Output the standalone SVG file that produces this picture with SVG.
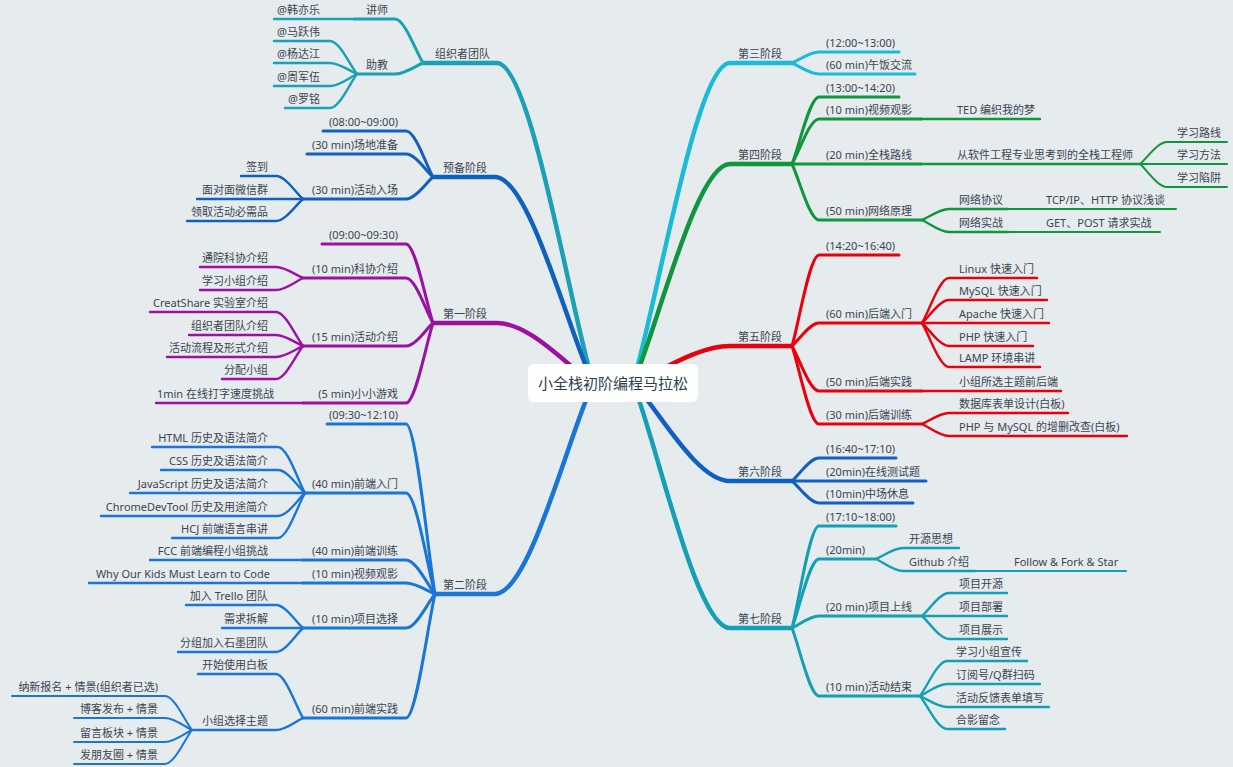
<svg xmlns="http://www.w3.org/2000/svg" width="1233" height="767" viewBox="0 0 1233 767">
<style>
text{font-family:"Noto Sans","Noto Sans CJK SC",sans-serif;font-size:11px;fill:#3a4550}
.l text{text-anchor:end}
.r text{text-anchor:start}
path{fill:none;stroke-linecap:round;stroke-linejoin:round}
.w1{stroke-width:4.5}.w2{stroke-width:3}.w3{stroke-width:2.4}.w4{stroke-width:2}
.c0{stroke:#1ba1b5}.c1{stroke:#1060c0}.c2{stroke:#9b12a3}.c3{stroke:#1776d6}
.c4{stroke:#18bcd8}.c5{stroke:#10963c}.c6{stroke:#e8000c}.c7{stroke:#1060c4}.c8{stroke:#14a0b4}
</style>
<rect width="1233" height="767" fill="#e6ebee"/>
<g id="connectors">
<path class="w1 c0" d="M593,383 C569,303 530.6,63 497,63 L423,63"/>
<path class="w1 c1" d="M593,383 C568.5,331.5 529.3,177 495,177 L433,177"/>
<path class="w1 c2" d="M593,383 C569,368 530.6,323 497,323 L433,323"/>
<path class="w1 c3" d="M593,383 C568.5,435.8 529.3,594 495,594 L435,594"/>
<path class="w1 c4" d="M633,383 C657.3,303 696.1,63 730,63 L792,63"/>
<path class="w1 c5" d="M633,383 C657.3,328.3 696.1,164 730,164 L792,164"/>
<path class="w1 c6" d="M633,383 C657.3,373.8 696.1,346 730,346 L792,346"/>
<path class="w1 c7" d="M633,383 C657.3,407.5 696.1,481 730,481 L792,481"/>
<path class="w1 c8" d="M633,383 C657.3,444.3 696.1,628 730,628 L792,628"/>
<path class="w2 c0" d="M423,63 C416,52 404.8,19 395,19 L355,19"/>
<path class="w3 c0" d="M355,19 L274,19"/>
<path class="w2 c0" d="M423,63 C416,65.8 404.8,74 395,74 L357,74"/>
<path class="w3 c0" d="M357,74 C350.3,65.8 339.5,41 330,41 L274,41"/>
<path class="w3 c0" d="M357,74 C350.3,71.3 339.5,63 330,63 L274,63"/>
<path class="w3 c0" d="M357,74 C350.3,77 339.5,86 330,86 L274,86"/>
<path class="w3 c0" d="M357,74 C350.3,82.5 339.5,108 330,108 L285,108"/>
<path class="w2 c1" d="M433,177 C426.3,165.5 415.5,131 406,131 L323,131"/>
<path class="w2 c1" d="M433,177 C426.3,171.3 415.5,154 406,154 L307,154"/>
<path class="w2 c1" d="M433,177 C426.3,182.5 415.5,199 406,199 L303,199"/>
<path class="w3 c1" d="M303,199 C296.3,193.3 285.5,176 276,176 L241,176"/>
<path class="w3 c1" d="M303,199 L197,199"/>
<path class="w3 c1" d="M303,199 C296.3,204.5 285.5,221 276,221 L187,221"/>
<path class="w2 c2" d="M433,323 C426.3,303.3 415.5,244 406,244 L322,244"/>
<path class="w2 c2" d="M433,323 C426.3,311.8 415.5,278 406,278 L303,278"/>
<path class="w3 c2" d="M303,278 C296.3,275.3 285.5,267 276,267 L200,267"/>
<path class="w3 c2" d="M303,278 C296.3,281 285.5,290 276,290 L200,290"/>
<path class="w2 c2" d="M433,323 C426.3,328.8 415.5,346 406,346 L303,346"/>
<path class="w3 c2" d="M303,346 C296.3,337.5 285.5,312 276,312 L150,312"/>
<path class="w3 c2" d="M303,346 C296.3,343.3 285.5,335 276,335 L189,335"/>
<path class="w3 c2" d="M303,346 C296.3,348.8 285.5,357 276,357 L167,357"/>
<path class="w3 c2" d="M303,346 C296.3,354.3 285.5,379 276,379 L222,379"/>
<path class="w2 c2" d="M433,323 C426.3,343 415.5,403 406,403 L303,403"/>
<path class="w3 c2" d="M303,403 L156,403"/>
<path class="w2 c3" d="M435,594 C427.8,551.5 416.2,424 406,424 L327,424"/>
<path class="w2 c3" d="M435,594 C427.8,568.8 416.2,493 406,493 L305,493"/>
<path class="w3 c3" d="M305,493 C298.3,481.5 287.5,447 278,447 L152,447"/>
<path class="w3 c3" d="M305,493 C298.3,487.3 287.5,470 278,470 L161,470"/>
<path class="w3 c3" d="M305,493 L130,493"/>
<path class="w3 c3" d="M305,493 C298.3,498.8 287.5,516 278,516 L101,516"/>
<path class="w3 c3" d="M305,493 C298.3,504.3 287.5,538 278,538 L172,538"/>
<path class="w2 c3" d="M435,594 C427.8,585.5 416.2,560 406,560 L303,560"/>
<path class="w3 c3" d="M303,560 L150,560"/>
<path class="w2 c3" d="M435,594 C427.8,591.3 416.2,583 406,583 L303,583"/>
<path class="w3 c3" d="M303,583 L89,583"/>
<path class="w2 c3" d="M435,594 C427.8,602.5 416.2,628 406,628 L303,628"/>
<path class="w3 c3" d="M303,628 C296.3,622.3 285.5,605 276,605 L186,605"/>
<path class="w3 c3" d="M303,628 L222,628"/>
<path class="w3 c3" d="M303,628 C296.3,634 285.5,652 276,652 L178,652"/>
<path class="w2 c3" d="M435,594 C427.8,625 416.2,718 406,718 L303,718"/>
<path class="w3 c3" d="M303,718 C296.3,707 285.5,674 276,674 L198,674"/>
<path class="w3 c3" d="M303,718 C296.3,721 285.5,730 276,730 L192,730"/>
<path class="w4 c3" d="M192,730 C185.3,721.5 174.5,696 165,696 L12,696"/>
<path class="w4 c3" d="M192,730 C185.3,727 174.5,718 165,718 L74,718"/>
<path class="w4 c3" d="M192,730 C185.3,733 174.5,742 165,742 L74,742"/>
<path class="w4 c3" d="M192,730 C185.3,738.5 174.5,764 165,764 L74,764"/>
<path class="w2 c4" d="M792,63 C798.8,60.3 809.6,52 819,52 L899,52"/>
<path class="w2 c4" d="M792,63 C798.8,65.8 809.6,74 819,74 L915,74"/>
<path class="w2 c5" d="M792,164 C798.8,147.3 809.6,97 819,97 L899,97"/>
<path class="w2 c5" d="M792,164 C798.8,152.8 809.6,119 819,119 L921,119"/>
<path class="w3 c5" d="M921,119 L1040,119"/>
<path class="w2 c5" d="M792,164 L921,164"/>
<path class="w3 c5" d="M921,164 L1140,164"/>
<path class="w4 c5" d="M1140,164 C1146.8,158.5 1157.6,142 1167,142 L1227,142"/>
<path class="w4 c5" d="M1140,164 L1227,164"/>
<path class="w4 c5" d="M1140,164 C1146.8,169.8 1157.6,187 1167,187 L1227,187"/>
<path class="w2 c5" d="M792,164 C798.8,178 809.6,220 819,220 L922,220"/>
<path class="w3 c5" d="M922,220 C928.8,217.3 939.6,209 949,209 L1008,209"/>
<path class="w4 c5" d="M1008,209 L1176,209"/>
<path class="w3 c5" d="M922,220 C928.8,223 939.6,232 949,232 L1008,232"/>
<path class="w4 c5" d="M1008,232 L1160,232"/>
<path class="w2 c6" d="M792,346 C798.8,323.3 809.6,255 819,255 L899,255"/>
<path class="w2 c6" d="M792,346 C798.8,340.3 809.6,323 819,323 L922,323"/>
<path class="w3 c6" d="M922,323 C928.8,311.8 939.6,278 949,278 L1037,278"/>
<path class="w3 c6" d="M922,323 C928.8,317.3 939.6,300 949,300 L1047,300"/>
<path class="w3 c6" d="M922,323 L1049,323"/>
<path class="w3 c6" d="M922,323 C928.8,328.8 939.6,346 949,346 L1033,346"/>
<path class="w3 c6" d="M922,323 C928.8,334 939.6,367 949,367 L1040,367"/>
<path class="w2 c6" d="M792,346 C798.8,357.3 809.6,391 819,391 L922,391"/>
<path class="w3 c6" d="M922,391 L1061,391"/>
<path class="w2 c6" d="M792,346 C798.8,365.5 809.6,424 819,424 L922,424"/>
<path class="w3 c6" d="M922,424 C928.8,421.3 939.6,413 949,413 L1068,413"/>
<path class="w3 c6" d="M922,424 C928.8,427 939.6,436 949,436 L1127,436"/>
<path class="w2 c7" d="M792,481 C798.8,475.3 809.6,458 819,458 L896,458"/>
<path class="w2 c7" d="M792,481 L926,481"/>
<path class="w2 c7" d="M792,481 C798.8,486.5 809.6,503 819,503 L913,503"/>
<path class="w2 c8" d="M792,628 C798.8,602.5 809.6,526 819,526 L896,526"/>
<path class="w2 c8" d="M792,628 C798.8,610.8 809.6,559 819,559 L876,559"/>
<path class="w3 c8" d="M876,559 C882.8,556.3 893.6,548 903,548 L959,548"/>
<path class="w3 c8" d="M876,559 C882.8,562 893.6,571 903,571 L975,571"/>
<path class="w4 c8" d="M975,571 L1126,571"/>
<path class="w2 c8" d="M792,628 C798.8,625 809.6,616 819,616 L922,616"/>
<path class="w3 c8" d="M922,616 C928.8,610.3 939.6,593 949,593 L1007,593"/>
<path class="w3 c8" d="M922,616 L1007,616"/>
<path class="w3 c8" d="M922,616 C928.8,621.8 939.6,639 949,639 L1007,639"/>
<path class="w2 c8" d="M792,628 C798.8,645 809.6,696 819,696 L920,696"/>
<path class="w3 c8" d="M920,696 C926.8,687.3 937.6,661 947,661 L1027,661"/>
<path class="w3 c8" d="M920,696 C926.8,693 937.6,684 947,684 L1040,684"/>
<path class="w3 c8" d="M920,696 C926.8,698.8 937.6,707 947,707 L1049,707"/>
<path class="w3 c8" d="M920,696 C926.8,704.3 937.6,729 947,729 L1005,729"/>
</g>
<g id="center">
<rect x="528" y="364" width="170" height="38" rx="6" fill="#ffffff"/>
<text x="613" y="389" text-anchor="middle" style="font-size:15px;fill:#2e3d4a">小全栈初阶编程马拉松</text>
</g>
<g id="stage-org" class="l">
<text x="490" y="58">组织者团队</text>
<text x="388" y="14">讲师</text>
<text x="320" y="14">@韩亦乐</text>
<text x="388" y="69">助教</text>
<text x="320" y="36">@马跃伟</text>
<text x="320" y="58">@杨达江</text>
<text x="320" y="81">@周军伍</text>
<text x="320" y="103">@罗铭</text>
</g>
<g id="stage-prep" class="l">
<text x="487" y="172">预备阶段</text>
<text x="398" y="126">(08:00~09:00)</text>
<text x="398" y="149">(30 min)场地准备</text>
<text x="398" y="194">(30 min)活动入场</text>
<text x="268" y="171">签到</text>
<text x="268" y="194">面对面微信群</text>
<text x="268" y="216">领取活动必需品</text>
</g>
<g id="stage-1" class="l">
<text x="487" y="318">第一阶段</text>
<text x="398" y="239">(09:00~09:30)</text>
<text x="398" y="273">(10 min)科协介绍</text>
<text x="268" y="262">通院科协介绍</text>
<text x="268" y="285">学习小组介绍</text>
<text x="398" y="341">(15 min)活动介绍</text>
<text x="268" y="307">CreatShare 实验室介绍</text>
<text x="268" y="330">组织者团队介绍</text>
<text x="268" y="352">活动流程及形式介绍</text>
<text x="268" y="374">分配小组</text>
<text x="398" y="398">(5 min)小小游戏</text>
<text x="274" y="398">1min 在线打字速度挑战</text>
</g>
<g id="stage-2" class="l">
<text x="487" y="589">第二阶段</text>
<text x="398" y="419">(09:30~12:10)</text>
<text x="398" y="488">(40 min)前端入门</text>
<text x="268" y="442">HTML 历史及语法简介</text>
<text x="268" y="465">CSS 历史及语法简介</text>
<text x="268" y="488">JavaScript 历史及语法简介</text>
<text x="268" y="511">ChromeDevTool 历史及用途简介</text>
<text x="268" y="533">HCJ 前端语言串讲</text>
<text x="398" y="555">(40 min)前端训练</text>
<text x="268" y="555">FCC 前端编程小组挑战</text>
<text x="398" y="578">(10 min)视频观影</text>
<text x="270" y="578">Why Our Kids Must Learn to Code</text>
<text x="398" y="623">(10 min)项目选择</text>
<text x="268" y="600">加入 Trello 团队</text>
<text x="268" y="623">需求拆解</text>
<text x="268" y="647">分组加入石墨团队</text>
<text x="398" y="713">(60 min)前端实践</text>
<text x="268" y="669">开始使用白板</text>
<text x="268" y="725">小组选择主题</text>
<text x="158" y="691">纳新报名 + 情景(组织者已选)</text>
<text x="158" y="713">博客发布 + 情景</text>
<text x="158" y="737">留言板块 + 情景</text>
<text x="158" y="759">发朋友圈 + 情景</text>
</g>
<g id="stage-3" class="r">
<text x="738" y="58">第三阶段</text>
<text x="826" y="47">(12:00~13:00)</text>
<text x="826" y="69">(60 min)午饭交流</text>
</g>
<g id="stage-4" class="r">
<text x="738" y="159">第四阶段</text>
<text x="826" y="92">(13:00~14:20)</text>
<text x="826" y="114">(10 min)视频观影</text>
<text x="957" y="114">TED 编织我的梦</text>
<text x="826" y="159">(20 min)全栈路线</text>
<text x="957" y="159">从软件工程专业思考到的全栈工程师</text>
<text x="1177" y="137">学习路线</text>
<text x="1177" y="159">学习方法</text>
<text x="1177" y="182">学习陷阱</text>
<text x="826" y="215">(50 min)网络原理</text>
<text x="959" y="204">网络协议</text>
<text x="1046" y="204">TCP/IP、HTTP 协议浅谈</text>
<text x="959" y="227">网络实战</text>
<text x="1046" y="227">GET、POST 请求实战</text>
</g>
<g id="stage-5" class="r">
<text x="738" y="341">第五阶段</text>
<text x="826" y="250">(14:20~16:40)</text>
<text x="826" y="318">(60 min)后端入门</text>
<text x="959" y="273">Linux 快速入门</text>
<text x="959" y="295">MySQL 快速入门</text>
<text x="959" y="318">Apache 快速入门</text>
<text x="959" y="341">PHP 快速入门</text>
<text x="959" y="362">LAMP 环境串讲</text>
<text x="826" y="386">(50 min)后端实践</text>
<text x="959" y="386">小组所选主题前后端</text>
<text x="826" y="419">(30 min)后端训练</text>
<text x="959" y="408">数据库表单设计(白板)</text>
<text x="959" y="431">PHP 与 MySQL 的增删改查(白板)</text>
</g>
<g id="stage-6" class="r">
<text x="738" y="476">第六阶段</text>
<text x="826" y="453">(16:40~17:10)</text>
<text x="826" y="476">(20min)在线测试题</text>
<text x="826" y="498">(10min)中场休息</text>
</g>
<g id="stage-7" class="r">
<text x="738" y="623">第七阶段</text>
<text x="826" y="521">(17:10~18:00)</text>
<text x="826" y="554">(20min)</text>
<text x="909" y="543">开源思想</text>
<text x="909" y="566">Github 介绍</text>
<text x="1014" y="566">Follow &amp; Fork &amp; Star</text>
<text x="826" y="611">(20 min)项目上线</text>
<text x="959" y="588">项目开源</text>
<text x="959" y="611">项目部署</text>
<text x="959" y="634">项目展示</text>
<text x="826" y="691">(10 min)活动结束</text>
<text x="956" y="656">学习小组宣传</text>
<text x="956" y="679">订阅号/Q群扫码</text>
<text x="956" y="702">活动反馈表单填写</text>
<text x="956" y="724">合影留念</text>
</g>
</svg>
